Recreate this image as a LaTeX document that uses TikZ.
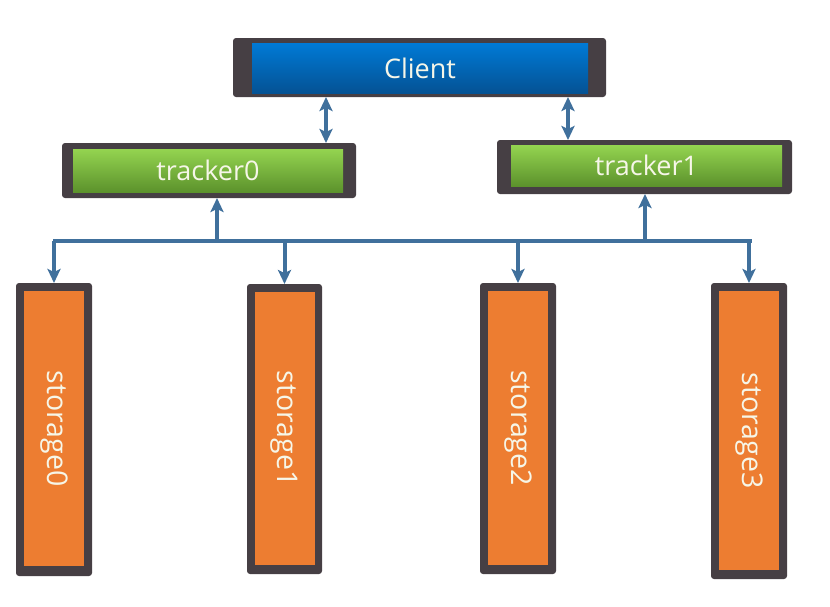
\documentclass[tikz,border=0pt]{standalone}
\usepackage{fontspec}
\setmainfont{Open Sans}
\usetikzlibrary{arrows.meta,positioning}
\definecolor{framegray}{RGB}{70,63,68}
\definecolor{linkblue}{RGB}{64,112,156}
\definecolor{labelwhite}{RGB}{246,246,232}
\definecolor{storeorange}{RGB}{237,125,49}

\begin{document}
\begin{tikzpicture}[x=1pt,y=-1pt,
  every node/.append style={inner sep=0pt,outer sep=0pt},
  link/.style={draw=linkblue,line width=4pt,-{Stealth[length=14pt,width=13pt,inset=3pt]}},
  dlink/.style={link,{Stealth[length=14pt,width=13pt,inset=3pt]}-{Stealth[length=14pt,width=13pt,inset=3pt]}}]
  \tikzstyle{frame} = [rectangle,fill=framegray,rounded corners=3pt]
  \tikzstyle{word} = [text=labelwhite,font=\fontsize{27}{30}\selectfont]
  \tikzstyle{bluebox} = [rectangle,top color={rgb,255:red,0;green,122;blue,214},bottom color={rgb,255:red,4;green,82;blue,148},word]
  \tikzstyle{greenbox} = [rectangle,top color={rgb,255:red,148;green,212;blue,80},bottom color={rgb,255:red,92;green,146;blue,44},word]
  \tikzstyle{orangebox} = [rectangle,fill=storeorange,word,font=\fontsize{28.5}{30}\selectfont]
  \useasboundingbox (0,0) rectangle (830,606);

  % client
  \node (client) [frame,minimum width=373pt,minimum height=59pt] at (419.5,67.5) {};
  \node (clientin) [bluebox,minimum width=336pt,minimum height=50pt] at (420,68) {Client};

  % trackers
  \node (tracker0) [frame,minimum width=294pt,minimum height=55pt] at (209,170.5) {};
  \node (tracker0in) [greenbox,minimum width=270pt,minimum height=43pt] at (208,170.5) {tracker0};
  \node (tracker1) [frame,minimum width=295pt,minimum height=54pt] at (644.5,167) {};
  \node (tracker1in) [greenbox,minimum width=271pt,minimum height=41pt] at (646.5,165.5) {tracker1};

  % storages
  \node (storage0) [frame,minimum width=76pt,minimum height=293pt] at (54,429.5) {};
  \node (storage0in) [orangebox,minimum width=60pt,minimum height=275pt] at (54,428.5) {\rotatebox{-90}{storage0}};
  \node (storage1) [frame,minimum width=75pt,minimum height=290pt] at (284.5,429) {};
  \node (storage1in) [orangebox,minimum width=60pt,minimum height=273pt] at (284.5,428.5) {\rotatebox{-90}{storage1}};
  \node (storage2) [frame,minimum width=76pt,minimum height=291pt] at (518,428.5) {};
  \node (storage2in) [orangebox,minimum width=60pt,minimum height=274pt] at (518,428) {\rotatebox{-90}{storage2}};
  \node (storage3) [frame,minimum width=76pt,minimum height=296pt] at (749,431) {};
  \node (storage3in) [orangebox,minimum width=60pt,minimum height=279pt] at (749,430.5) {\rotatebox{-90}{storage3}};

  % bus
  \coordinate (busL) at (53,241);
  \coordinate (busR) at (752,241);
  \coordinate (tap0) at (217,241);
  \coordinate (tap1) at (645,241);
  \coordinate (up0) at (326,97);
  \coordinate (up1) at (568,97);
  \draw[draw=linkblue,line width=4pt] (busL) -- (busR);

  \draw[dlink] (up0) -- (up0 |- tracker0.north);
  \draw[dlink] (up1) -- (up1 |- tracker1.north);
  \draw[link] (tap0) -- (tap0 |- tracker0.south);
  \draw[link] (tap1) -- (tap1 |- tracker1.south);
  \foreach \s in {0,1,2,3}
    \draw[link] (storage\s.north |- busL) -- (storage\s.north);
\end{tikzpicture}
\end{document}
